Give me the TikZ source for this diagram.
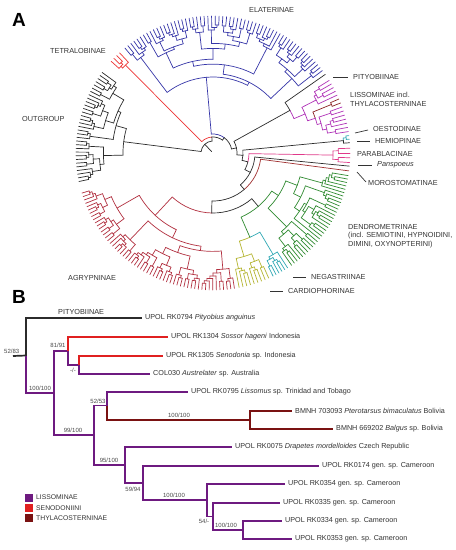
\documentclass[tikz,border=0pt]{standalone}
\usepackage{fontspec}
\setmainfont{Liberation Sans}
\definecolor{blk}{HTML}{2B2B2B}
\definecolor{txt}{HTML}{333333}
\definecolor{txtl}{HTML}{4A4A4A}
\definecolor{ela}{HTML}{3636A8}
\definecolor{tetr}{HTML}{EE3333}
\definecolor{lis}{HTML}{B032B8}
\definecolor{thy}{HTML}{8A2222}
\definecolor{cya}{HTML}{2FA8B4}
\definecolor{par}{HTML}{E0398A}
\definecolor{mor}{HTML}{A03030}
\definecolor{den}{HTML}{2F8A30}
\definecolor{car}{HTML}{B5B530}
\definecolor{agr}{HTML}{B23040}
\definecolor{pur}{HTML}{6E1A80}
\definecolor{sred}{HTML}{E02020}
\definecolor{dred}{HTML}{7A1212}
\newcommand\R{137}
\gdef\forcek{0}
% recursive circular cladogram: #1 a1, #2 a2, #3 tips, #4 parent radius
\newcommand\ctree[4]{%
  \begingroup
  \ifnum#3=1\relax
    \draw (#1:#4pt) -- (#1:\R pt);%
    \xdef\retth{#1}%
  \else
    \pgfmathsetmacro\rr{max(#4+2.5,\R-(\R-\RC)*((#3)/\NN)^0.55)}%
    \ifnum\forcek>0\relax
      \edef\kk{\forcek}\gdef\forcek{0}%
    \else
      \pgfmathtruncatemacro\kk{max(1,min(#3-1,round(#3*(0.12+0.76*rnd))))}%
    \fi
    \pgfmathsetmacro\st{(#2-#1)/(#3-1)}%
    \pgfmathsetmacro\aa{#1+(\kk-1)*\st}%
    \pgfmathsetmacro\bb{#1+\kk*\st}%
    \pgfmathtruncatemacro\nb{#3-\kk}%
    \edef\next{\noexpand\ctree{#1}{\aa}{\kk}{\rr}}\next
    \let\thA\retth
    \edef\next{\noexpand\ctree{\bb}{#2}{\nb}{\rr}}\next
    \let\thB\retth
    \pgfmathsetmacro\th{(\thA+\thB)/2}%
    \draw (\thA:\rr pt) arc[start angle=\thA, end angle=\thB, radius=\rr pt];%
    \draw (\th:#4pt) -- (\th:\rr pt);%
    \xdef\retth{\th}%
  \fi
  \endgroup}
% clade: colour, a1, a2, n, crown radius, parent radius, store macro
\newcommand\clade[7]{%
  \begin{scope}[draw=#1]\def\NN{#4}\def\RC{#5}\ctree{#2}{#3}{#4}{#6}\end{scope}%
  \global\let#7\retth}
% join node: r, tha, ca, thb, cb, rparent, cnode, store macro
\newcommand\jnode[8]{%
  \pgfmathsetmacro\jth{(#2+#4)/2}%
  \draw[#3] (\jth:#1pt) arc[start angle=\jth, end angle=#2, radius=#1pt];%
  \draw[#5] (\jth:#1pt) arc[start angle=\jth, end angle=#4, radius=#1pt];%
  \draw[#7] (\jth:#6pt) -- (\jth:#1pt);%
  \global\let#8\jth}
\tikzset{
  lab/.style={font=\fontsize{7.3}{8.6}\selectfont, text=txt, inner sep=0pt, anchor=west, align=left},
  tiplab/.style={font=\fontsize{7.2}{8}\selectfont, text=txt, inner sep=0pt, anchor=west, xshift=3pt},
  bs/.style={font=\fontsize{6}{7}\selectfont, text=txtl, inner sep=0.6pt},
  tick/.style={draw=txt, line width=0.7pt},
  pb/.style={line width=1.7pt},
  panel/.style={font=\fontsize{19}{20}\selectfont\bfseries, inner sep=0pt}
}
\begin{document}
\begin{tikzpicture}[x=1pt, y=-1pt]
\useasboundingbox[fill=white] (0,0) rectangle (456,550);
\pgfmathsetseed{11}
% ---------------- Panel A ----------------
\node[panel] (pA) at (19,20) {A};
\begin{scope}[shift={(213,153)}, line width=0.7pt, line cap=round]
  \def\rZ{12}\def\rA{16}\def\rB{19}\def\rC{24}\def\rD{30}\def\rE{36}\def\rF{42}\def\rG{48}\def\rH{60}
  \clade{blk}{144}{192}{32}{90}{\rZ}{\thO}
  \clade{tetr}{133}{138}{4}{124}{\rA}{\thT}
  \gdef\forcek{54}
  \clade{ela}{37}{130}{60}{76}{\rB}{\thE}
  % Pityobiinae + Lissominae
  \clade{blk}{35}{35}{1}{0}{88}{\thPi}
  \clade{lis}{25}{32}{5}{116}{100}{\thLa}
  \clade{thy}{21.4}{23.2}{2}{128}{108}{\thTh}
  \clade{lis}{9}{19.6}{7}{112}{108}{\thLc}
  \jnode{108}{\thTh}{thy}{\thLc}{lis}{100}{lis}{\thM}
  \jnode{100}{\thLa}{lis}{\thM}{lis}{88}{lis}{\thLis}
  \jnode{88}{\thPi}{blk}{\thLis}{lis}{\rC}{blk}{\thPL}
  % Oestodinae + Hemiopinae
  \clade{cya}{5.8}{7.3}{2}{134}{131}{\thOe}
  \clade{blk}{4.3}{4.3}{1}{0}{131}{\thHe}
  \jnode{131}{\thOe}{cya}{\thHe}{blk}{\rD}{blk}{\thOH}
  % Parablacinae, Panspoeus, Morostomatinae
  \clade{par}{-4}{2}{4}{120}{\rE}{\thPa}
  \clade{blk}{-5.5}{-5.5}{1}{0}{\rF}{\thPn}
  \clade{mor}{-7.5}{-7.5}{1}{0}{\rG}{\thMo}
  % Dendrometrinae, Negastriinae, Cardiophorinae
  \clade{den}{-55}{-9.5}{32}{78}{70}{\thDe}
  \clade{cya}{-64}{-57}{6}{118}{92}{\thNe}
  \clade{car}{-79}{-66}{9}{108}{92}{\thCa}
  \jnode{92}{\thNe}{cya}{\thCa}{car}{70}{den}{\thNC}
  \jnode{70}{\thDe}{den}{\thNC}{den}{\rH}{blk}{\thDNC}
  % Agrypninae
  \clade{agr}{-163}{-81}{55}{85}{\rH}{\thAg}
  % backbone
  \jnode{\rH}{\thDNC}{blk}{\thAg}{agr}{\rG}{blk}{\thIh}
  \jnode{\rG}{\thMo}{mor}{\thIh}{blk}{\rF}{blk}{\thIg}
  \jnode{\rF}{\thPn}{blk}{\thIg}{blk}{\rE}{blk}{\thIf}
  \jnode{\rE}{\thPa}{par}{\thIf}{blk}{\rD}{blk}{\thIe}
  \jnode{\rD}{\thOH}{blk}{\thIe}{blk}{\rC}{blk}{\thId}
  \jnode{\rC}{\thPL}{blk}{\thId}{blk}{\rB}{blk}{\thIc}
  \jnode{\rB}{\thE}{ela}{\thIc}{blk}{\rA}{blk}{\thIb}
  \jnode{\rA}{\thT}{tetr}{\thIb}{blk}{\rZ}{blk}{\thIa}
  \jnode{\rZ}{\thO}{blk}{\thIa}{blk}{2}{blk}{\thRoot}
\end{scope}
% labels panel A
\node[lab] (lTet) at (50,51) {TETRALOBINAE};
\node[lab] (lOut) at (22,119) {OUTGROUP};
\node[lab] (lAgr) at (68,278) {AGRYPNINAE};
\node[lab] (lEla) at (249,10) {ELATERINAE};
\node[lab] (lPit) at (353,77) {PITYOBIINAE};
\coordinate (kPit) at (333,77); \coordinate (kPit2) at (348,77);
\draw[tick] (kPit) -- (kPit2);
\node[lab] (lLis) at (350,99.5) {LISSOMINAE incl.\\THYLACOSTERNINAE};
\node[lab] (lOes) at (373,129) {OESTODINAE};
\coordinate (kOes) at (355,133); \coordinate (kOes2) at (368,130);
\draw[tick] (kOes) -- (kOes2);
\node[lab] (lHem) at (375,141) {HEMIOPINAE};
\coordinate (kHem) at (357,141); \coordinate (kHem2) at (370,141);
\draw[tick] (kHem) -- (kHem2);
\node[lab] (lPar) at (357,154) {PARABLACINAE};
\node[lab] (lPan) at (377,165) {\itshape Panspoeus};
\coordinate (kPan) at (358,165); \coordinate (kPan2) at (372,165);
\draw[tick] (kPan) -- (kPan2);
\node[lab] (lMor) at (368,183) {MOROSTOMATINAE};
\coordinate (kMor) at (357,172); \coordinate (kMor2) at (366,182);
\draw[tick] (kMor) -- (kMor2);
\node[lab] (lDen) at (348,236) {DENDROMETRINAE\\(incl. SEMIOTINI, HYPNOIDINI,\\DIMINI, OXYNOPTERINI)};
\node[lab] (lNeg) at (311,277) {NEGASTRIINAE};
\coordinate (kNeg) at (293,277); \coordinate (kNeg2) at (306,277);
\draw[tick] (kNeg) -- (kNeg2);
\node[lab] (lCar) at (288,291) {CARDIOPHORINAE};
\coordinate (kCar) at (270,291); \coordinate (kCar2) at (283,291);
\draw[tick] (kCar) -- (kCar2);
% ---------------- Panel B ----------------
\node[panel] (pB) at (19,297) {B};
\node[lab] (lPitB) at (58,312) {PITYOBIINAE};
% internal nodes
\coordinate (rs) at (13,356);
\coordinate (r) at (26,355.5);
\coordinate (nA) at (54,393);
\coordinate (nB) at (68,351);
\coordinate (nD) at (79,365);
\coordinate (nC) at (94,435);
\coordinate (nE) at (107,405.5);
\coordinate (nF) at (250,420);
\coordinate (nG) at (125,465);
\coordinate (nH) at (143,483);
\coordinate (nI) at (207,500);
\coordinate (nJ) at (213,516.5);
\coordinate (nK) at (243,530);
% tip ends
\coordinate (e1) at (142,318);
\coordinate (e2) at (168,337);
\coordinate (e3) at (163,356);
\coordinate (e4) at (150,374);
\coordinate (e5) at (188,392);
\coordinate (e6) at (292,411);
\coordinate (e7) at (333,429);
\coordinate (e8) at (232,447);
\coordinate (e9) at (319,466);
\coordinate (e10) at (285,484);
\coordinate (e11) at (280,503);
\coordinate (e12) at (282,521);
\coordinate (e13) at (292,539);
\begin{scope}[pb]
  \draw[blk] (rs) -- (r);
  \draw[blk] (r) |- (e1);
  \draw[pur] (r) |- (nA);
  \draw[pur] (nA) |- (nB);
  \draw[pur] (nA) |- (nC);
  \draw[sred] (nB) |- (e2);
  \draw[pur] (nB) |- (nD);
  \draw[sred] (nD) |- (e3);
  \draw[pur] (nD) |- (e4);
  \draw[pur] (nC) |- (nE);
  \draw[pur] (nC) |- (nG);
  \draw[pur] (nE) |- (e5);
  \draw[dred] (nE) |- (nF);
  \draw[dred] (nF) |- (e6);
  \draw[dred] (nF) |- (e7);
  \draw[pur] (nG) |- (e8);
  \draw[pur] (nG) |- (nH);
  \draw[pur] (nH) |- (e9);
  \draw[pur] (nH) |- (nI);
  \draw[pur] (nI) |- (e10);
  \draw[pur] (nI) |- (nJ);
  \draw[pur] (nJ) |- (e11);
  \draw[pur] (nJ) |- (nK);
  \draw[pur] (nK) |- (e12);
  \draw[pur] (nK) |- (e13);
\end{scope}
% tip labels
\node[tiplab] (t1) at (e1) {UPOL RK0794 \textit{Pityobius anguinus}};
\node[tiplab] (t2) at (e2) {UPOL RK1304 \textit{Sossor hageni} Indonesia};
\node[tiplab] (t3) at (e3) {UPOL RK1305 \textit{Senodonia} sp. Indonesia};
\node[tiplab] (t4) at (e4) {COL030 \textit{Austrelater} sp. Australia};
\node[tiplab] (t5) at (e5) {UPOL RK0795 \textit{Lissomus} sp. Trinidad and Tobago};
\node[tiplab] (t6) at (e6) {BMNH 703093 \textit{Pterotarsus bimaculatus} Bolivia};
\node[tiplab] (t7) at (e7) {BMNH 669202 \textit{Balgus} sp. Bolivia};
\node[tiplab] (t8) at (e8) {UPOL RK0075 \textit{Drapetes mordelloides} Czech Republic};
\node[tiplab] (t9) at (e9) {UPOL RK0174 gen. sp. Cameroon};
\node[tiplab] (t10) at (e10) {UPOL RK0354 gen. sp. Cameroon};
\node[tiplab] (t11) at (e11) {UPOL RK0335 gen. sp. Cameroon};
\node[tiplab] (t12) at (e12) {UPOL RK0334 gen. sp. Cameroon};
\node[tiplab] (t13) at (e13) {UPOL RK0353 gen. sp. Cameroon};
% support values
\node[bs, anchor=south east] (b1) at (20,354) {52/83};
\node[bs, anchor=south] (b2) at (40,391) {100/100};
\node[bs, anchor=south] (b3) at (58,348) {81/91};
\node[bs, anchor=north] (b4) at (73,367) {-/-};
\node[bs, anchor=south] (b5) at (73,433) {99/100};
\node[bs, anchor=south] (b6) at (98,404) {52/53};
\node[bs, anchor=south] (b7) at (179,418) {100/100};
\node[bs, anchor=south] (b8) at (109,463) {95/100};
\node[bs, anchor=north] (b9) at (133,486) {59/94};
\node[bs, anchor=south] (b10) at (174,498) {100/100};
\node[bs, anchor=north east] (b11) at (210,518) {54/-};
\node[bs, anchor=south] (b12) at (226,528) {100/100};
% legend
\node[fill=pur, minimum size=8pt, inner sep=0pt] (sq1) at (29,497.5) {};
\node[fill=sred, minimum size=8pt, inner sep=0pt] (sq2) at (29,508) {};
\node[fill=dred, minimum size=8pt, inner sep=0pt] (sq3) at (29,518) {};
\node[lab, font=\fontsize{6.8}{8}\selectfont] (g1) at (36,497.5) {LISSOMINAE};
\node[lab, font=\fontsize{6.8}{8}\selectfont] (g2) at (36,508) {SENODONIINI};
\node[lab, font=\fontsize{6.8}{8}\selectfont] (g3) at (36,518) {THYLACOSTERNINAE};
\end{tikzpicture}
\end{document}
